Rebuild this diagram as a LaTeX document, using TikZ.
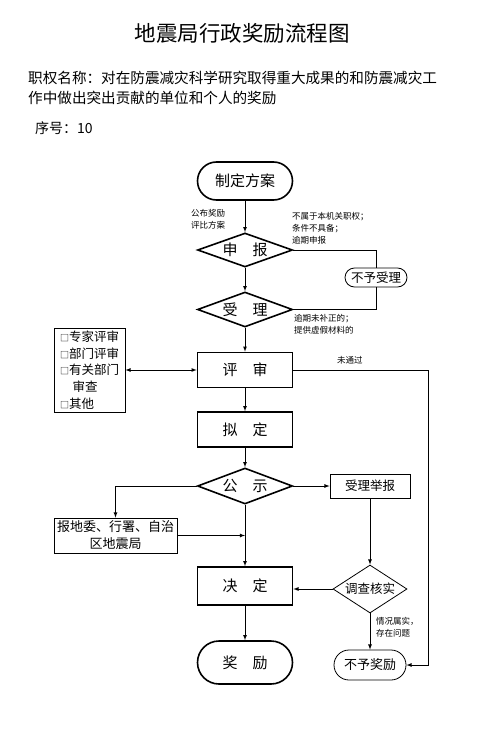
\documentclass[tikz,border=0pt]{standalone}
\usepackage{fontspec}
\setmainfont{Noto Sans CJK SC}
\usetikzlibrary{shapes.geometric, arrows, positioning}
\newcommand{\quadrado}{{\fontsize{9}{9}\selectfont □}}
\tikzset{
    grosso/.style={draw=black, line width=1.6pt, minimum width=95, inner sep=0pt, font=\fontsize{15}{18}\selectfont},
    fino/.style={draw=black, line width=0.8pt, inner sep=0pt, font=\fontsize{12.5}{16}\selectfont},
    losango/.style={diamond, draw=black, line width=1.6pt, inner sep=0pt, shape aspect=2.7, minimum width=95, minimum height=35, font=\fontsize{15}{18}\selectfont},
    nota/.style={font=\fontsize{8.5}{12}\selectfont, align=left, inner sep=0pt},
    fluxo/.style={line width=0.8pt, ->}
}

\begin{document}
\begin{tikzpicture}[x=1pt, y=-1pt, >=latex]
    \useasboundingbox (0,0) rectangle (486,743);
    % cabecalho
    \node (titulo) at (242,33) {\fontsize{21.5}{24}\selectfont 地震局行政奖励流程图};
    \node[anchor=west, align=left, inner sep=0pt, font=\fontsize{14.6}{20}\selectfont] (zhiquan) at (28,88)
        {职权名称：对在防震减灾科学研究取得重大成果的和防震减灾工\\作中做出突出贡献的单位和个人的奖励};
    \node[anchor=west, inner sep=0pt, font=\fontsize{14}{18}\selectfont] (xuhao) at (35,128) {序号：10};

    % coluna principal
    \node[grosso, minimum height=38, rounded corners=19] (zhiding) at (245,181) {制定方案};
    \node[losango, minimum height=34] (shenbao) at (245,250) {申\quad 报};
    \node[losango] (shouli) at (245,309.5) {受\quad 理};
    \node[grosso, minimum height=35] (pingshen) at (245,370) {评\quad 审};
    \node[grosso, minimum height=35] (niding) at (245,429.5) {拟\quad 定};
    \node[losango, minimum height=36] (gongshi) at (245,486) {公\quad 示};
    \node[grosso, minimum height=38] (jueding) at (245,586) {决\quad 定};
    \node[grosso, minimum height=43, rounded corners=21.5] (jiangli) at (245,662.5) {奖\quad 励};

    % caixas laterais
    \node[fino, minimum width=62, minimum height=19, rounded corners=9.5] (buyushouli) at (376,277.5) {不予受理};
    \node[fino, minimum width=71, minimum height=84, align=left, font=\fontsize{12.5}{16.7}\selectfont] (fangshi) at (89.5,370)
        {\quadrado 专家评审\\\quadrado 部门评审\\\quadrado 有关部门\\\hspace*{1em}审查\\\quadrado 其他};
    \node[fino, minimum width=123, minimum height=35, align=center, font=\fontsize{13}{17}\selectfont] (baodiwei) at (115.5,535.5)
        {报地委、行署、自治\\区地震局};
    \node[fino, minimum width=80, minimum height=24] (jubao) at (370,486) {受理举报};
    \node[diamond, fino, shape aspect=1.54, minimum width=74, minimum height=48] (diaocha) at (370,589) {调查核实};
    \node[fino, minimum width=72, minimum height=30, rounded corners=15, font=\fontsize{13}{16}\selectfont] (buyujiangli) at (370,665) {不予奖励};

    % notas
    \node[nota, anchor=west] (gongbu) at (191,219.5) {公布奖励\\评比方案};
    \node[nota, anchor=west] (bushu) at (292,228) {不属于本机关职权；\\条件不具备；\\逾期申报};
    \node[nota, anchor=west] (yuqi) at (294,324) {逾期未补正的；\\提供虚假材料的};
    \node[nota, anchor=west] (qingkuang) at (376,627) {情况属实，\\存在问题};

    % ligacoes
    \draw[fluxo] (zhiding) -- (shenbao);
    \draw[fluxo] (shenbao) -- (shouli);
    \draw[line width=0.8pt] (shenbao.east) -| (buyushouli.north);
    \draw[line width=0.8pt] (shouli.east) -| (buyushouli.south);
    \draw[fluxo] (shouli) -- (pingshen);
    \draw[<->, line width=0.8pt] (fangshi) -- (pingshen);
    \draw[fluxo] (pingshen) -- (niding);
    \draw[fluxo] (niding) -- (gongshi);
    \draw[fluxo] (gongshi) -- (jueding);
    \draw[fluxo] (gongshi.west) -| (baodiwei.north);
    \draw[fluxo] (baodiwei.east) -- (baodiwei.east -| gongshi.south);
    \draw[fluxo] (gongshi) -- (jubao);
    \draw[fluxo] (jubao) -- (diaocha);
    \draw[fluxo] (diaocha.west) -- (diaocha.west -| jueding.east);
    \draw[fluxo] (diaocha) -- (buyujiangli);
    \draw[fluxo] (jueding) -- (jiangli);
    \coordinate (canto) at (428,370);
    \draw[fluxo] (pingshen.east) -- node[nota, pos=0.42, above=5pt] (weitongguo) {未通过} (canto) |- (buyujiangli.east);
\end{tikzpicture}
\end{document}
